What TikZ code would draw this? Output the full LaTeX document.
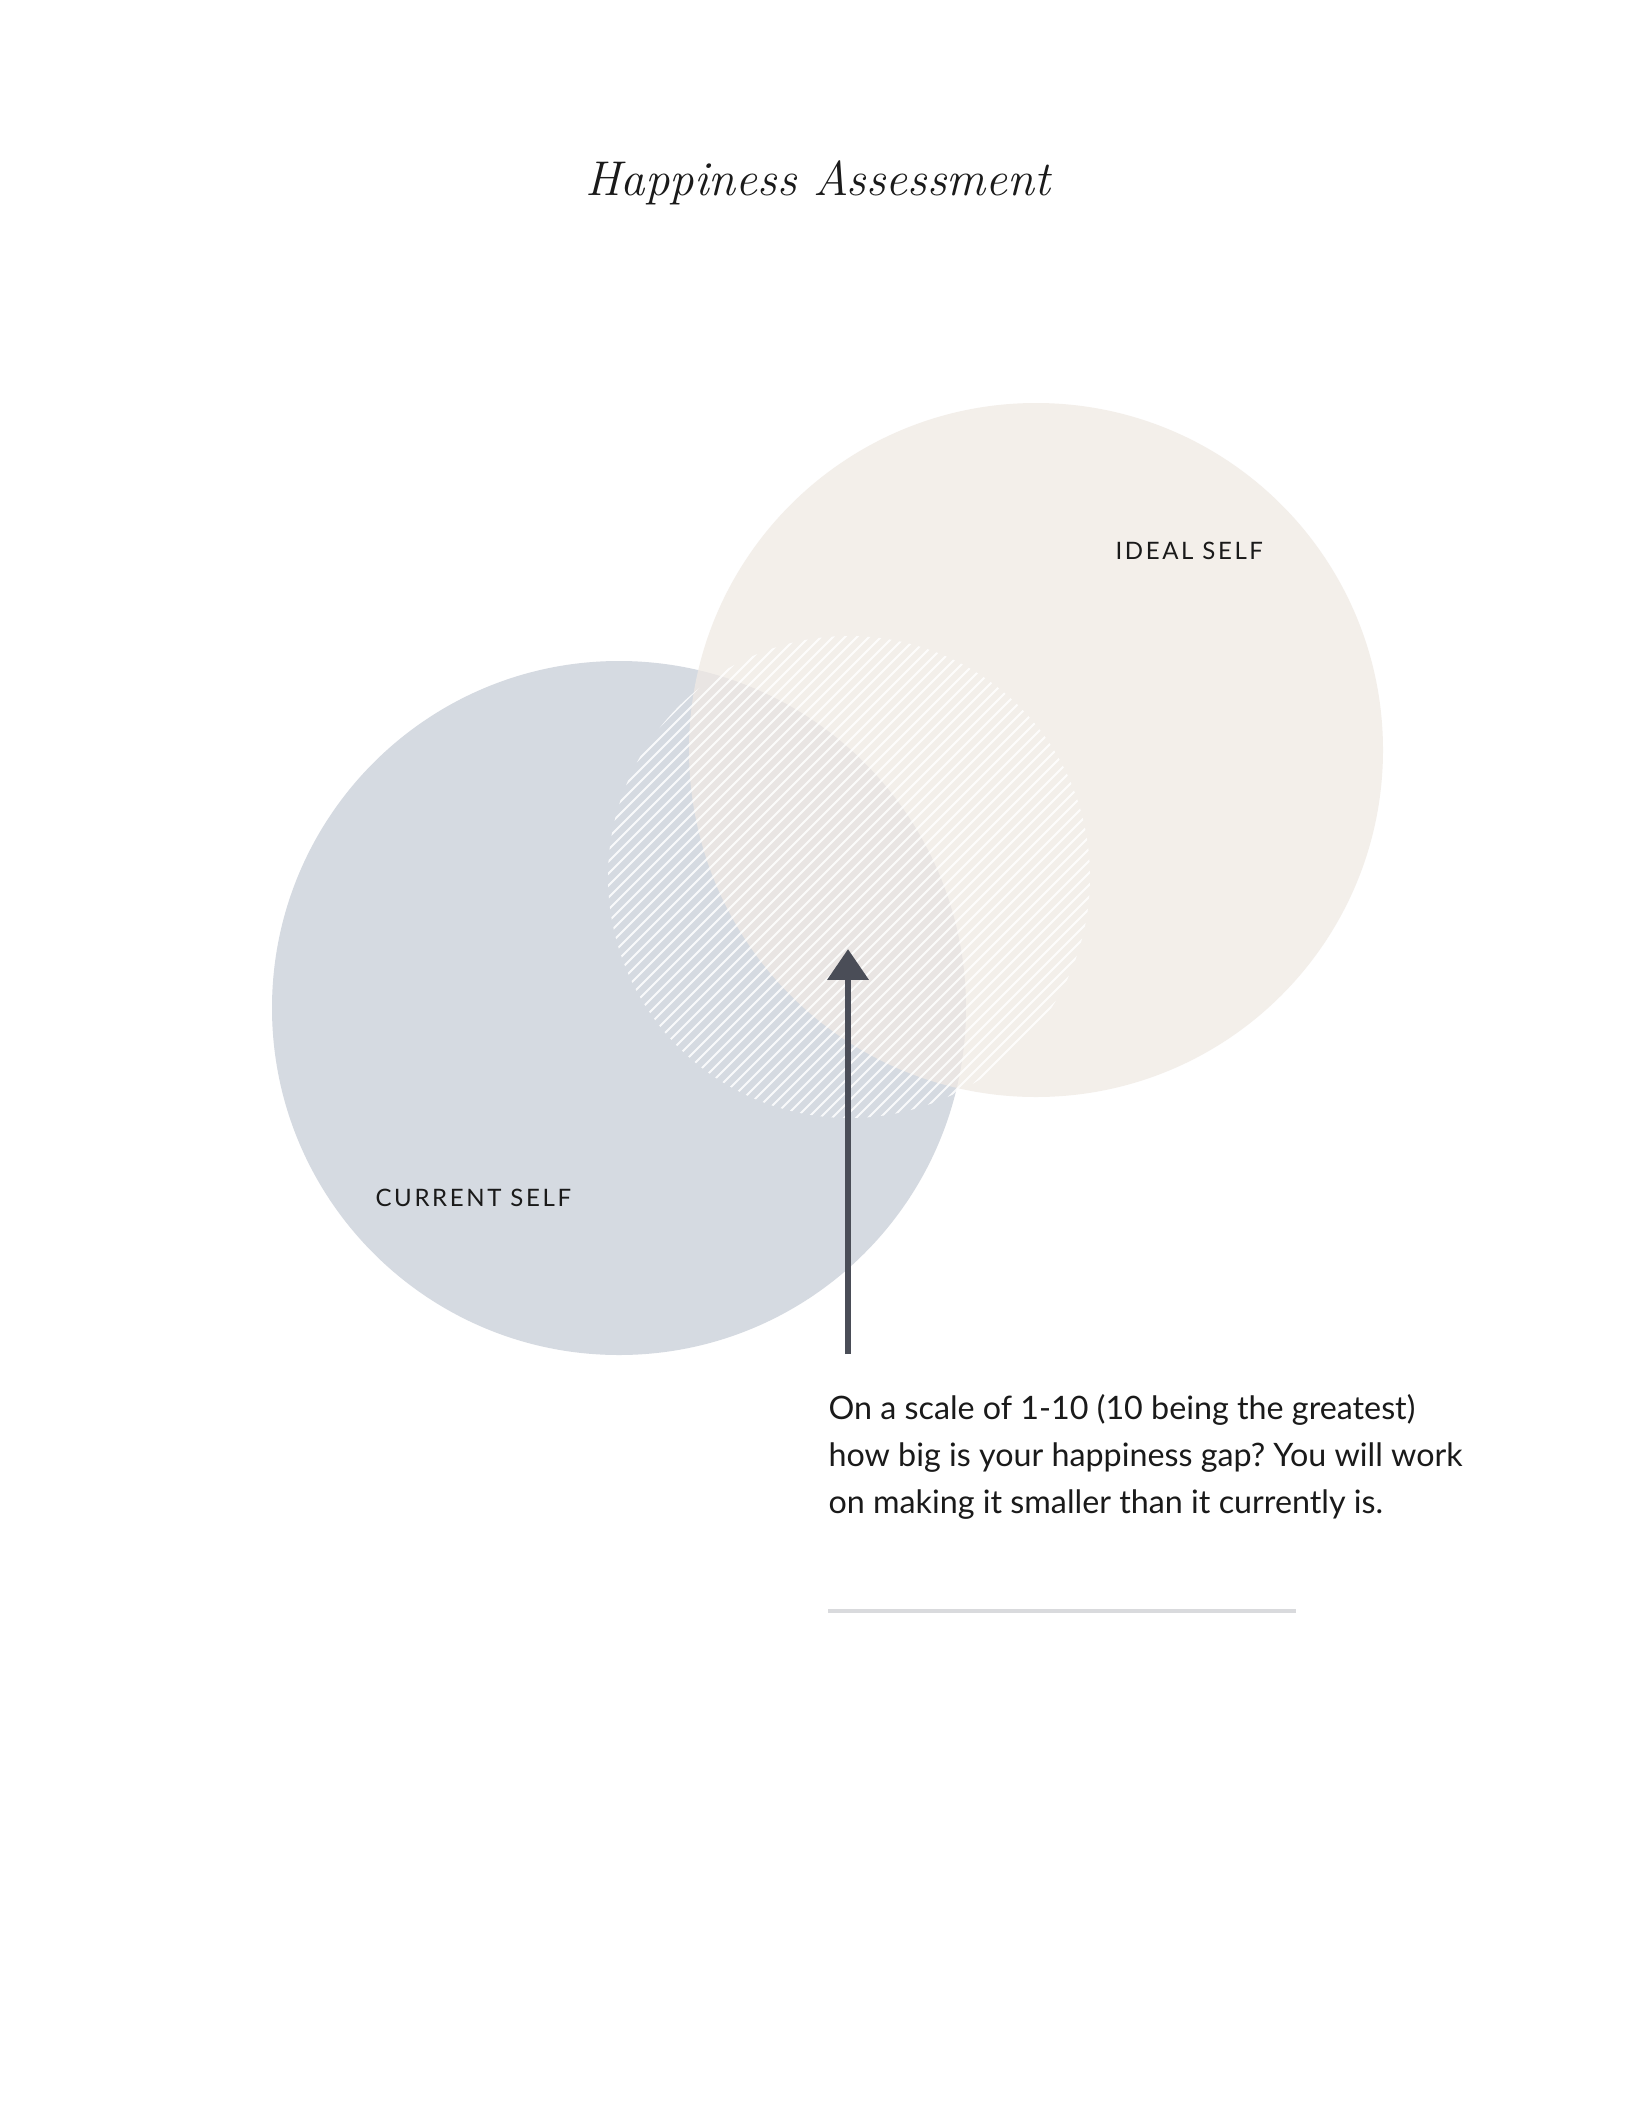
\documentclass[tikz,border=0pt]{standalone}
\usepackage{fontspec}
\usetikzlibrary{arrows.meta}
\newfontfamily\bodyfont{Lato}
\newfontfamily\capsfont[LetterSpace=11]{Lato}
\definecolor{currentfill}{HTML}{D5DAE1}
\definecolor{idealfill}{HTML}{F0EAE4}
\definecolor{gapink}{HTML}{4A4D57}
\definecolor{ruleline}{HTML}{D9DADD}
\definecolor{inktext}{HTML}{1A1A1A}
\frenchspacing

\begin{document}
\begin{tikzpicture}[x=0.375pt,y=-0.375pt,
    selflabel/.style={anchor=base west, inner sep=0pt, text=inktext,
      font=\capsfont\fontsize{9}{11}\selectfont},
    hatchline/.style={white, opacity=.85, line width=.75pt},
    gaparrow/.style={gapink, line width=2.6pt,
      -{Triangle[width=15pt,length=11.6pt]}}]
      \useasboundingbox[fill=white] (0,0) rectangle (1632,2112);
      \coordinate (current) at (619,1008);
      \coordinate (ideal) at (1036,750);
      \coordinate (gap) at (849,877);
      \fill[currentfill] (current) circle [radius=347];
      \fill[idealfill, opacity=.75] (ideal) circle [radius=347];
      % hatched gap
      \begin{scope}
        \clip (gap) circle [radius=241];
        \foreach \c in {1386,1398,...,2070}
          \draw[hatchline] (590,\c-590) -- (1110,\c-1110);
      \end{scope}
      \node[anchor=base, inner sep=0pt, text=inktext,
        font=\fontsize{18.3}{22}\selectfont\itshape] (title) at (818,196)
        {Happiness Assessment};
      \node[selflabel] (ideallabel) at (1115,559) {IDEAL SELF};
      \node[selflabel] (currentlabel) at (375,1206) {CURRENT SELF};
      \coordinate (gapbase) at (848,1354);
      \coordinate (gaptip) at (848,949);
      \draw[gaparrow] (gapbase) -- (gaptip);
      \node[anchor=north west, inner sep=0pt, align=left, text=inktext,
        font=\bodyfont\fontsize{12.1}{17.6}\selectfont] (question) at (828,1394)
        {On a scale of 1-10 (10 being the greatest)\\
         how big is your happiness gap? You will work\\
         on making it smaller than it currently is.};
      \coordinate (rulestart) at (828,1611);
      \coordinate (ruleend) at (1296,1611);
      \draw[ruleline, line width=1.5pt] (rulestart) -- (ruleend);
  \end{tikzpicture}
\end{document}
